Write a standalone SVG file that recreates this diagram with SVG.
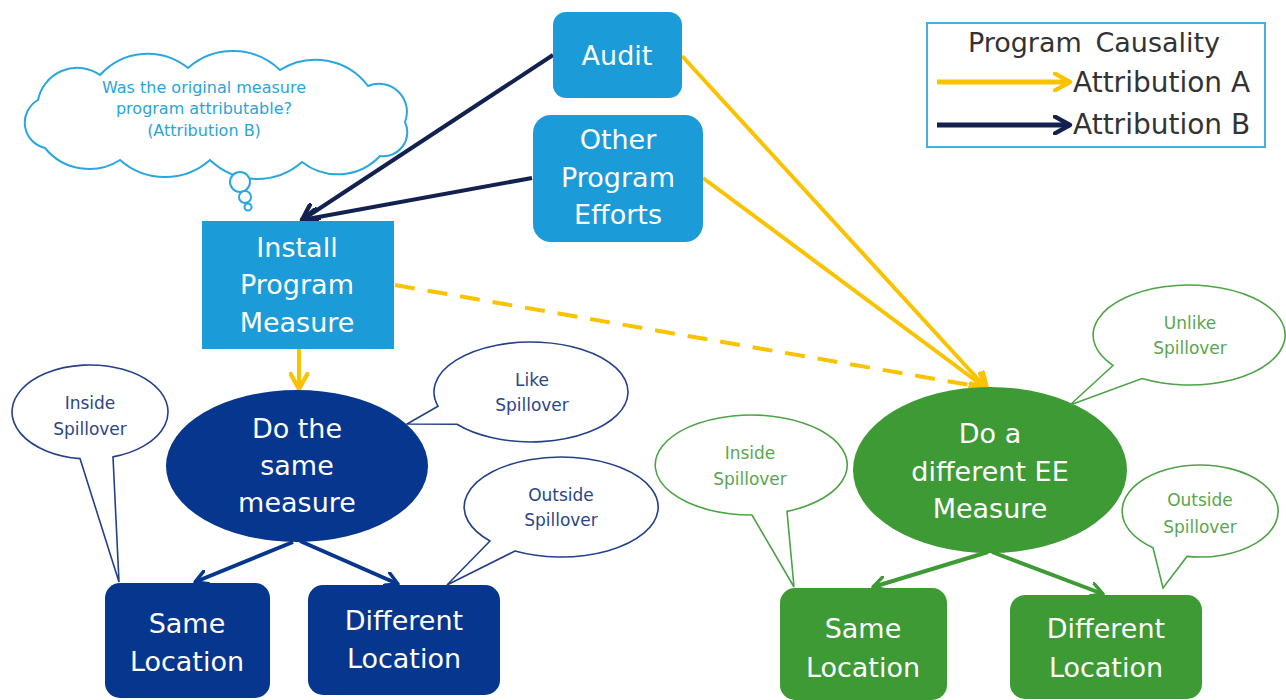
<svg xmlns="http://www.w3.org/2000/svg" width="1286" height="700" viewBox="0 0 1286 700">
<style>
  text { font-family: "DejaVu Sans", Verdana, sans-serif; text-anchor: middle; }
  .nt { font-size: 27px; fill: #ffffff; }
  .lb { fill: #1b9bd7; }
  .nv { fill: #07368f; }
  .gr { fill: #3d9a34; }
  .bb { fill: #ffffff; stroke: #24408a; stroke-width: 1.6; }
  .bbt { font-size: 17px; fill: #2b4687; }
  .gb { fill: #ffffff; stroke: #4ea346; stroke-width: 1.6; }
  .gbt { font-size: 17px; fill: #5aa650; }
  .ya { stroke: #f9c300; stroke-width: 4; fill: none; }
  .na { stroke: #13214f; stroke-width: 4; fill: none; }
  .lg { font-size: 28px; fill: #333333; text-anchor: start; }
</style>
<defs>
  <marker id="mY" viewBox="0 0 12 12" refX="10" refY="6" markerWidth="20" markerHeight="20" markerUnits="userSpaceOnUse" orient="auto">
    <path d="M1,1 L10,6 L1,11" fill="none" stroke="#f9c300" stroke-width="2.6" stroke-linecap="round" stroke-linejoin="round"/>
  </marker>
  <marker id="mN" viewBox="0 0 12 12" refX="10" refY="6" markerWidth="20" markerHeight="20" markerUnits="userSpaceOnUse" orient="auto">
    <path d="M1,1 L10,6 L1,11" fill="none" stroke="#13214f" stroke-width="2.6" stroke-linecap="round" stroke-linejoin="round"/>
  </marker>
  <marker id="mB" viewBox="0 0 12 12" refX="10" refY="6" markerWidth="16" markerHeight="16" markerUnits="userSpaceOnUse" orient="auto">
    <path d="M1,1 L10,6 L1,11" fill="none" stroke="#07368f" stroke-width="2.6" stroke-linecap="round" stroke-linejoin="round"/>
  </marker>
  <marker id="mG" viewBox="0 0 12 12" refX="10" refY="6" markerWidth="16" markerHeight="16" markerUnits="userSpaceOnUse" orient="auto">
    <path d="M1,1 L10,6 L1,11" fill="none" stroke="#3d9a34" stroke-width="2.6" stroke-linecap="round" stroke-linejoin="round"/>
  </marker>
</defs>
<rect width="1286" height="700" fill="#ffffff"/>

<g id="thought-cloud">
  <path d="M45,148 A26 26 0 0 1 38,100 A40 40 0 0 1 100,75 A64 64 0 0 1 188,68 A68 68 0 0 1 280,70 A66 66 0 0 1 368,86 A28 28 0 0 1 405,122 A24 24 0 0 1 380,156 A58 58 0 0 1 302,162 A68 68 0 0 1 210,160 A68 68 0 0 1 120,160 A57 57 0 0 1 45,148 Z" fill="#ffffff" stroke="#2ba6de" stroke-width="2"/>
  <circle cx="240" cy="182" r="10" fill="#ffffff" stroke="#2ba6de" stroke-width="2"/>
  <circle cx="245" cy="197" r="6" fill="#ffffff" stroke="#2ba6de" stroke-width="2"/>
  <circle cx="248" cy="207" r="3.5" fill="#ffffff" stroke="#2ba6de" stroke-width="2"/>
  <text x="204" y="93" font-size="16" fill="#2aa4dc">Was the original measure</text>
  <text x="204" y="114" font-size="16" fill="#2aa4dc">program attributable?</text>
  <text x="204" y="136" font-size="16" fill="#2aa4dc">(Attribution B)</text>
</g>

<g id="connectors">
  <line x1="553" y1="55" x2="302" y2="220" class="na" marker-end="url(#mN)"/>
  <line x1="532" y1="178" x2="302" y2="220" class="na" marker-end="url(#mN)"/>
  <line x1="682" y1="56" x2="987" y2="389" class="ya" marker-end="url(#mY)"/>
  <line x1="703" y1="178" x2="987" y2="389" class="ya" marker-end="url(#mY)"/>
  <line x1="395" y1="285" x2="987" y2="388" class="ya" stroke-width="5" stroke-dasharray="20 13" marker-end="url(#mY)"/>
  <line x1="299" y1="349" x2="299" y2="389" class="ya" stroke-width="3" marker-end="url(#mY)"/>
  <line x1="293" y1="542" x2="195" y2="582" stroke="#07368f" stroke-width="4" marker-end="url(#mB)"/>
  <line x1="300" y1="541" x2="398" y2="584" stroke="#07368f" stroke-width="4" marker-end="url(#mB)"/>
  <line x1="988" y1="552" x2="873" y2="587" stroke="#3d9a34" stroke-width="4" marker-end="url(#mG)"/>
  <line x1="992" y1="552" x2="1103" y2="594" stroke="#3d9a34" stroke-width="4" marker-end="url(#mG)"/>
</g>

<g id="audit">
  <rect x="553" y="12" width="129" height="86" rx="13" class="lb"/>
  <text x="617" y="65" class="nt">Audit</text>
</g>
<g id="other-program-efforts">
  <rect x="533" y="115" width="170" height="127" rx="18" class="lb"/>
  <text x="618" y="149" class="nt">Other</text>
  <text x="618" y="187" class="nt">Program</text>
  <text x="618" y="224" class="nt">Efforts</text>
</g>
<g id="install-program-measure">
  <rect x="202" y="221" width="192" height="128" class="lb"/>
  <text x="297" y="257" class="nt">Install</text>
  <text x="297" y="294" class="nt">Program</text>
  <text x="297" y="332" class="nt">Measure</text>
</g>

<g id="do-same-measure">
  <ellipse cx="297" cy="466" rx="131" ry="76" class="nv"/>
  <text x="297" y="438" class="nt">Do the</text>
  <text x="297" y="475" class="nt">same</text>
  <text x="297" y="512" class="nt">measure</text>
</g>
<g id="blue-same-location">
  <rect x="105" y="583" width="165" height="115" rx="15" class="nv"/>
  <text x="187" y="633" class="nt">Same</text>
  <text x="187" y="671" class="nt">Location</text>
</g>
<g id="blue-different-location">
  <rect x="308" y="585" width="192" height="110" rx="15" class="nv"/>
  <text x="404" y="630" class="nt">Different</text>
  <text x="404" y="668" class="nt">Location</text>
</g>

<g id="blue-inside-spillover">
  <path d="M80,458.6 L119,582 L113,456.9 A78 47 0 1 0 80,458.6 Z" class="bb"/>
  <text x="90" y="409" class="bbt">Inside</text>
  <text x="90" y="435" class="bbt">Spillover</text>
</g>
<g id="like-spillover">
  <path d="M438,406.2 L407,424 L457,424.3 A97 50 0 1 0 438,406.2 Z" class="bb"/>
  <text x="532" y="386" class="bbt">Like</text>
  <text x="532" y="411" class="bbt">Spillover</text>
</g>
<g id="blue-outside-spillover">
  <path d="M490,541 L447,585 L515,551 A97 50 0 1 0 490,541 Z" class="bb"/>
  <text x="561" y="501" class="bbt">Outside</text>
  <text x="561" y="526" class="bbt">Spillover</text>
</g>

<g id="do-different-ee-measure">
  <ellipse cx="990" cy="470" rx="137" ry="83" class="gr"/>
  <text x="990" y="443" class="nt">Do a</text>
  <text x="990" y="481" class="nt">different EE</text>
  <text x="990" y="518" class="nt">Measure</text>
</g>
<g id="green-same-location">
  <rect x="780" y="588" width="167" height="112" rx="15" class="gr"/>
  <text x="863" y="638" class="nt">Same</text>
  <text x="863" y="677" class="nt">Location</text>
</g>
<g id="green-different-location">
  <rect x="1010" y="595" width="192" height="104" rx="15" class="gr"/>
  <text x="1106" y="638" class="nt">Different</text>
  <text x="1106" y="677" class="nt">Location</text>
</g>

<g id="green-inside-spillover">
  <path d="M752,515 L794,587 L787,511.4 A96 50 0 1 0 752,515 Z" class="gb"/>
  <text x="750" y="459" class="gbt">Inside</text>
  <text x="750" y="485" class="gbt">Spillover</text>
</g>
<g id="unlike-spillover">
  <path d="M1113,365.5 L1070,405 L1142,378.6 A96 50 0 1 0 1113,365.5 Z" class="gb"/>
  <text x="1190" y="329" class="gbt">Unlike</text>
  <text x="1190" y="354" class="gbt">Spillover</text>
</g>
<g id="green-outside-spillover">
  <path d="M1153,547.7 L1163,588 L1187,556.4 A78 46 0 1 0 1153,547.7 Z" class="gb"/>
  <text x="1200" y="506" class="gbt">Outside</text>
  <text x="1200" y="533" class="gbt">Spillover</text>
</g>

<g id="legend">
  <rect x="927" y="23" width="338" height="124" fill="#ffffff" stroke="#45b1e2" stroke-width="2"/>
  <text x="1094" y="52" font-size="27" fill="#333333" word-spacing="5">Program Causality</text>
  <line x1="937" y1="82" x2="1070" y2="82" stroke="#f9c300" stroke-width="5" marker-end="url(#mY)"/>
  <line x1="937" y1="125" x2="1070" y2="125" stroke="#13214f" stroke-width="5" marker-end="url(#mN)"/>
  <text x="1073" y="92" class="lg">Attribution A</text>
  <text x="1073" y="134" class="lg">Attribution B</text>
</g>
</svg>
